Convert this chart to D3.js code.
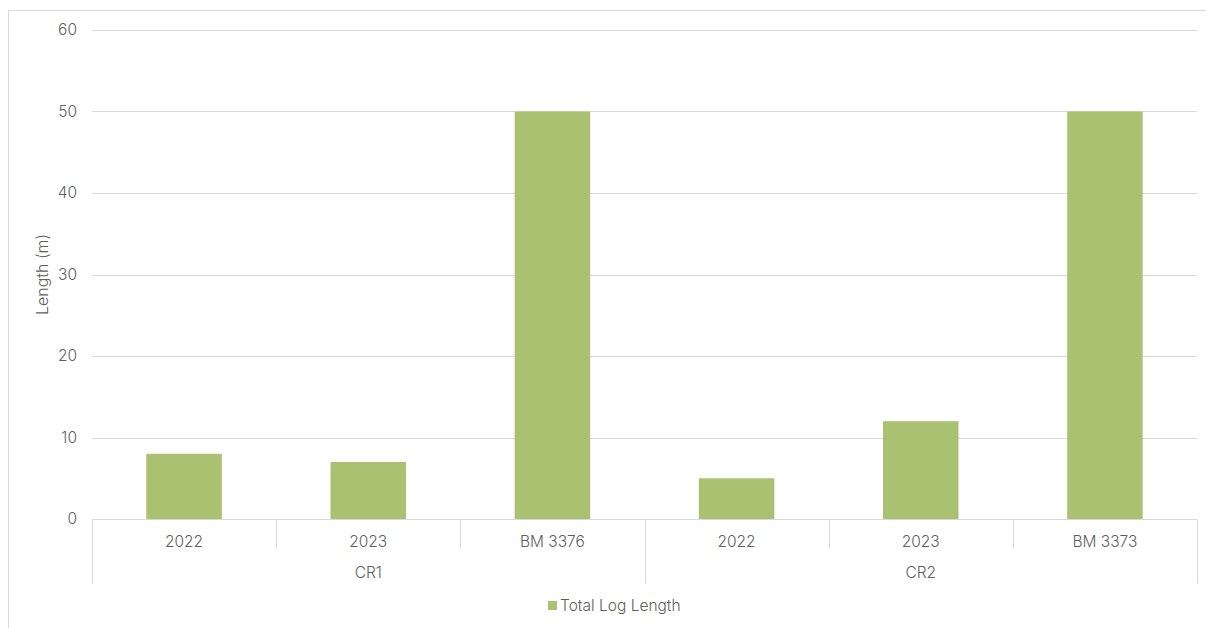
<!DOCTYPE html>
<html>
<head>
<meta charset="utf-8">
<script src="https://cdn.jsdelivr.net/npm/d3@7"></script>
<style>
  html, body { margin: 0; padding: 0; background: #fff; }
  svg { display: block; font-family: "Inter", "Noto Sans", sans-serif; font-weight: 300; }
</style>
</head>
<body>
<svg id="chart" width="1206" height="628"></svg>
<script>
// Log length per borehole, grouped by site
const groups = ["CR1", "CR2"];
const subCategories = ["2022", "2023", "BM 3376", "2022", "2023", "BM 3373"];
const groupOfItem = ["CR1", "CR1", "CR1", "CR2", "CR2", "CR2"];
const totalLogLength = [8, 7, 50, 5, 12, 50];
const yTicks = [0, 10, 20, 30, 40, 50, 60];
const seriesName = "Total Log Length";
const yTitle = "Length (m)";

const svg = d3.select("#chart");
const W = 1206, H = 628;
const margin = { left: 92, right: 9, top: 30, bottom: 109 };
const plotW = W - margin.left - margin.right;
const plotH = H - margin.top - margin.bottom;
const barColor = "#a9c170";
const gridColor = "#d9d9d9";
const textColor = "#606060";
const fontSize = "15.5px";

// outer frame
svg.append("rect")
  .attr("x", 8.5).attr("y", 10.5)
  .attr("width", W + 10).attr("height", H + 10)
  .attr("fill", "none").attr("stroke", "#d9d9d9").attr("stroke-width", 1);

const ids = subCategories.map((d, i) => i);
const x = d3.scaleBand().domain(ids).range([margin.left, margin.left + plotW]).paddingInner(0).paddingOuter(0);
const y = d3.scaleLinear().domain([0, 60]).range([margin.top + plotH, margin.top]);

// horizontal gridlines
svg.append("g")
  .selectAll("line").data(yTicks.filter(t => t > 0)).join("line")
  .attr("x1", margin.left).attr("x2", margin.left + plotW)
  .attr("y1", d => Math.round(y(d)) + 0.5).attr("y2", d => Math.round(y(d)) + 0.5)
  .attr("stroke", gridColor).attr("stroke-width", 1);

// y axis labels
const yAxis = d3.axisLeft(y).tickValues(yTicks).tickSize(0).tickPadding(14);
const yg = svg.append("g").attr("transform", `translate(${margin.left},0)`).call(yAxis)
  .attr("font-family", null).attr("font-size", null);
yg.select(".domain").remove();
yg.selectAll("text").attr("fill", textColor).style("font-size", fontSize).attr("x", -15);

// bars
const barW = x.bandwidth() * 0.41;
svg.append("g")
  .selectAll("rect").data(totalLogLength).join("rect")
  .attr("x", (d, i) => x(i) + (x.bandwidth() - barW) / 2)
  .attr("width", barW)
  .attr("y", d => y(d))
  .attr("height", d => y(0) - y(d))
  .attr("fill", barColor);

// category axis line
const y0 = Math.round(y(0)) + 0.5;
svg.append("line")
  .attr("x1", margin.left).attr("x2", margin.left + plotW)
  .attr("y1", y0).attr("y2", y0)
  .attr("stroke", gridColor);

// separator ticks: short between items, long at group edges
const edges = d3.range(subCategories.length + 1);
svg.append("g")
  .selectAll("line").data(edges).join("line")
  .attr("x1", i => Math.round(i < subCategories.length ? x(i) : x(i - 1) + x.bandwidth()) + 0.5)
  .attr("x2", i => Math.round(i < subCategories.length ? x(i) : x(i - 1) + x.bandwidth()) + 0.5)
  .attr("y1", y0)
  .attr("y2", i => (i === 0 || i === subCategories.length || groupOfItem[i] !== groupOfItem[i - 1]) ? y0 + 64 : y0 + 29)
  .attr("stroke", gridColor);

// item labels
svg.append("g")
  .selectAll("text").data(subCategories).join("text")
  .attr("x", (d, i) => x(i) + x.bandwidth() / 2)
  .attr("y", y0 + 27)
  .attr("text-anchor", "middle")
  .attr("fill", textColor).style("font-size", fontSize)
  .text(d => d);

// group labels
svg.append("g")
  .selectAll("text").data(groups).join("text")
  .attr("x", g => {
    const idx = ids.filter(i => groupOfItem[i] === g);
    return (x(idx[0]) + x(idx[idx.length - 1]) + x.bandwidth()) / 2;
  })
  .attr("y", y0 + 58)
  .attr("text-anchor", "middle")
  .attr("fill", textColor).style("font-size", fontSize)
  .text(d => d);

// y axis title
svg.append("text")
  .attr("transform", `translate(48,${margin.top + plotH / 2}) rotate(-90)`)
  .attr("text-anchor", "middle")
  .attr("fill", textColor).style("font-size", "16px")
  .text(yTitle);

// legend
const lg = svg.append("g").attr("transform", "translate(548,601)");
lg.append("rect").attr("width", 9).attr("height", 9).attr("fill", barColor);
lg.append("text").attr("x", 12).attr("y", 10)
  .attr("fill", textColor).style("font-size", fontSize)
  .text(seriesName);
</script>
</body>
</html>
